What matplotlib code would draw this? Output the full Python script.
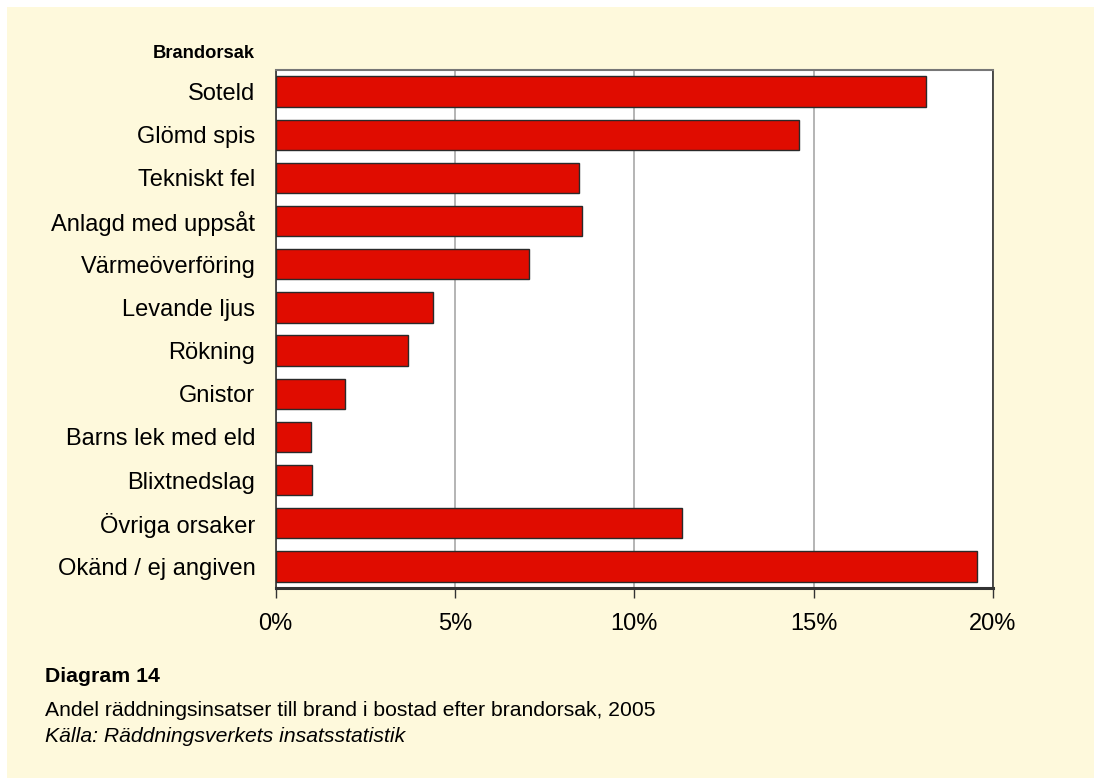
import matplotlib
matplotlib.use("Agg")
import matplotlib.pyplot as plt
from matplotlib.patches import Rectangle
from matplotlib.ticker import FuncFormatter

# Andel räddningsinsatser per brandorsak (%), 2005
causes = [
    "Soteld", "Glömd spis", "Tekniskt fel", "Anlagd med uppsåt",
    "Värmeöverföring", "Levande ljus", "Rökning", "Gnistor",
    "Barns lek med eld", "Blixtnedslag", "Övriga orsaker", "Okänd / ej angiven",
]
shares = [18.12, 14.60, 8.45, 8.54, 7.06, 4.39, 3.68, 1.95, 0.99, 1.01, 11.32, 19.56]
xticks = [0, 5, 10, 15, 20]

W, H = 1094, 778
BG = "#fef9dc"
RED = "#e00c00"

plt.rcParams["font.family"] = ["Liberation Sans", "DejaVu Sans"]

fig = plt.figure(figsize=(W / 100, H / 100), dpi=100)
fig.patch.set_facecolor("white")
# yellow panel
fig.patches.append(Rectangle((7 / W, 0), 1 - 7 / W, 1 - 7 / H, transform=fig.transFigure,
                             facecolor=BG, edgecolor="none", zorder=-10))

left, right, top, bottom = 275.5, 993, 70, 588
ax = fig.add_axes([left / W, 1 - bottom / H, (right - left) / W, (bottom - top) / H])
ax.set_facecolor("white")

y = list(range(len(causes)))
ax.barh(y, shares, height=0.7, color=RED, edgecolor="#2a2a2a", linewidth=1.0, zorder=3)
ax.set_ylim(len(causes) - 0.5, -0.5)
ax.set_xlim(0, 20)

ax.set_xticks(xticks)
ax.xaxis.set_major_formatter(FuncFormatter(lambda v, p: f"{v:.0f}%"))
ax.tick_params(axis="x", direction="out", length=7, width=1, color="#333333",
               labelsize=17, pad=11)
ax.set_yticks(y)
ax.set_yticklabels(causes)
ax.tick_params(axis="y", length=0, labelsize=17, pad=14.5)

ax.grid(axis="x", color="#a8a8a8", linewidth=1.2, zorder=0)
ax.set_axisbelow(True)
for s in ("left", "right"):
    ax.spines[s].set_color("#333333")
    ax.spines[s].set_linewidth(1.2)
ax.spines["top"].set_color("#777777")
ax.spines["top"].set_linewidth(1.5)
ax.spines["bottom"].set_color("#333333")
ax.spines["bottom"].set_linewidth(2.2)

fig.text(255 / W, 1 - 53 / H, "Brandorsak", ha="right", va="center",
         fontsize=13.2, fontweight="bold")

fig.text(45 / W, 1 - 677 / H, "Diagram 14", ha="left", va="center",
         fontsize=15.3, fontweight="bold")
fig.text(45 / W, 1 - 711 / H,
         "Andel räddningsinsatser till brand i bostad efter brandorsak, 2005",
         ha="left", va="center", fontsize=15.2)
fig.text(45 / W, 1 - 737 / H, "Källa: Räddningsverkets insatsstatistik",
         ha="left", va="center", fontsize=15.2, style="italic")

fig.savefig("out.png", dpi=100, facecolor=fig.get_facecolor())
